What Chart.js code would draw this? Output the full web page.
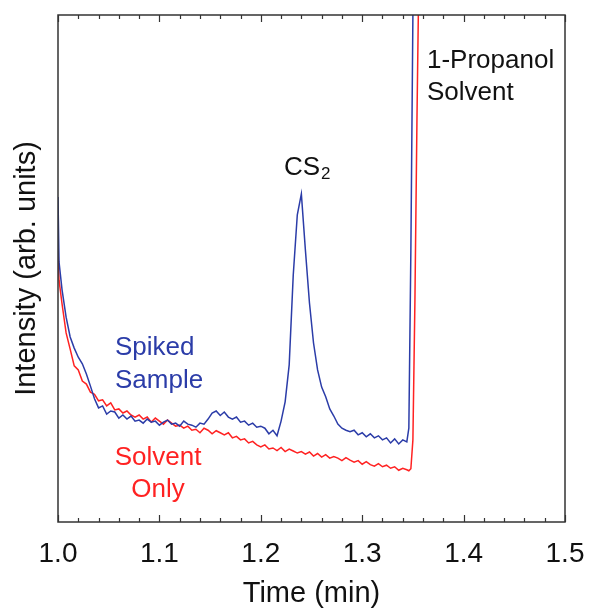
<!DOCTYPE html>
<html>
<head>
<meta charset="utf-8">
<script src="https://cdn.jsdelivr.net/npm/chart.js@4"></script>
<style>
  html, body { margin: 0; padding: 0; background: #fff; }
  #wrap { width: 589px; height: 611px; }
</style>
</head>
<body>
<div id="wrap"><canvas id="chart"></canvas></div>
<script>
// time axis (min)
const times = [
  1.000, 1.001,
  1.004, 1.008, 1.012, 1.016, 1.020, 1.024, 1.028, 1.032, 1.036, 1.040,
  1.044, 1.048, 1.052, 1.056, 1.060, 1.064, 1.068, 1.072, 1.076, 1.080,
  1.084, 1.088, 1.092, 1.096, 1.100, 1.104, 1.108, 1.112, 1.116, 1.120,
  1.124, 1.128, 1.132, 1.136, 1.140, 1.144, 1.148, 1.152, 1.156, 1.160,
  1.164, 1.168, 1.172, 1.176, 1.180, 1.184, 1.188, 1.192, 1.196, 1.200,
  1.204, 1.208, 1.212, 1.216, 1.220, 1.224, 1.228, 1.232, 1.236, 1.240,
  1.244, 1.248, 1.252, 1.256, 1.260, 1.264, 1.268, 1.272, 1.276, 1.280,
  1.284, 1.288, 1.292, 1.296, 1.300, 1.304, 1.308, 1.312, 1.316, 1.320,
  1.324, 1.328, 1.332, 1.336, 1.340, 1.344,
  1.346, 1.348, 1.350, 1.352, 1.354, 1.356
];

// intensity, arbitrary units (0 = bottom of frame, 100 = top)
const spiked = [
  64.1, 51.3,
  45.8, 40.4, 36.5, 34.3, 32.5, 31.2, 29.2, 26.8, 24.3, 22.5,
  22.9, 21.3, 21.9, 21.7, 20.5, 21.1, 20.3, 20.9, 19.9, 20.1,
  19.5, 20.3, 19.7, 19.9, 19.1, 19.7, 20.1, 19.3, 19.5, 18.9,
  19.9, 19.3, 19.1, 18.7, 19.5, 19.3, 20.3, 21.5, 21.9, 21.0,
  21.7, 20.7, 20.3, 20.7, 19.7, 19.9, 19.1, 19.5, 18.7, 18.9,
  18.5, 17.4, 18.1, 17.0, 19.9, 23.7, 31.0, 48.7, 60.6, 64.7,
  53.6, 43.2, 35.3, 30.0, 26.6, 24.7, 22.3, 20.9, 19.3, 18.5,
  18.1, 17.8, 18.1, 17.2, 17.6, 16.8, 17.4, 16.6, 17.0, 16.2,
  16.6, 15.6, 16.4, 15.4, 16.2, 15.8,
  18.5, 53.6, 100, 110, 110, 110
];

const solventOnly = [
  54.0, 47.7,
  43.0, 37.3, 34.1, 30.8, 30.0, 27.8, 27.2, 25.6, 25.2, 23.9,
  24.1, 22.9, 23.5, 22.1, 22.3, 21.5, 21.9, 21.1, 20.7, 21.1,
  20.3, 20.7, 19.7, 20.5, 19.9, 19.3, 20.1, 19.5, 18.9, 19.1,
  18.5, 18.9, 18.1, 18.3, 17.6, 18.5, 18.1, 17.4, 18.0, 17.6,
  17.2, 17.6, 16.6, 16.9, 16.2, 16.4, 15.6, 15.9, 15.2, 14.8,
  15.2, 14.4, 14.6, 14.1, 14.7, 13.9, 14.4, 14.0, 13.6, 13.9,
  13.4, 13.8, 13.0, 13.5, 12.8, 13.3, 12.6, 12.9, 12.6, 12.1,
  12.7, 12.2, 11.8, 12.1, 11.4, 11.9, 11.3, 11.0, 11.5, 10.9,
  11.2, 10.6, 10.9, 10.2, 10.6, 10.3,
  10.1, 10.5, 16.2, 43.8, 79.3, 110
];

const xTicks = [1.0, 1.1, 1.2, 1.3, 1.4, 1.5];

const BLUE = "#2b3ca8";
const RED = "#ff2222";
const FONT = "'Liberation Sans', Arial, sans-serif";

function toPoints(ys) {
  return times.map((t, i) => ({ x: t, y: ys[i] }));
}

// frame + inward ticks on top and bottom edges
const framePlugin = {
  id: "frame",
  afterDatasetsDraw(chart) {
    let ctx = chart.ctx;
    let a = chart.chartArea;
    let x = chart.scales.x;
    ctx.save();
    ctx.strokeStyle = "#333";
    ctx.lineWidth = 1.5;
    ctx.strokeRect(a.left, a.top, a.right - a.left, a.bottom - a.top);
    ctx.lineWidth = 1.2;
    for (let i = 0; i <= 25; i++) {
      let px = Math.round(x.getPixelForValue(1 + i * 0.02)) + 0.5;
      let len = i % 5 === 0 ? 7 : 4;
      ctx.beginPath();
      ctx.moveTo(px, a.bottom);
      ctx.lineTo(px, a.bottom - len);
      ctx.moveTo(px, a.top);
      ctx.lineTo(px, a.top + len);
      ctx.stroke();
    }
    ctx.restore();
  }
};

const labelPlugin = {
  id: "labels",
  afterDraw(chart) {
    let ctx = chart.ctx;
    ctx.save();
    ctx.textBaseline = "alphabetic";
    ctx.font = "26px " + FONT;

    ctx.fillStyle = "#111";
    ctx.textAlign = "left";
    ctx.fillText("CS", 284, 175);
    let w = ctx.measureText("CS").width;
    ctx.font = "17px " + FONT;
    ctx.fillText("2", 284 + w + 1, 179);

    ctx.font = "26px " + FONT;
    ctx.fillText("1-Propanol", 427, 68);
    ctx.fillText("Solvent", 427, 100);

    ctx.fillStyle = BLUE;
    ctx.fillText("Spiked", 115, 355);
    ctx.fillText("Sample", 115, 388);

    ctx.fillStyle = RED;
    ctx.textAlign = "center";
    ctx.fillText("Solvent", 158, 465);
    ctx.fillText("Only", 158, 497);
    ctx.restore();
  }
};

new Chart(document.getElementById("chart"), {
  type: "line",
  data: {
    datasets: [
      {
        label: "Spiked Sample",
        data: toPoints(spiked),
        borderColor: BLUE,
        borderWidth: 1.5,
        pointRadius: 0,
        tension: 0
      },
      {
        label: "Solvent Only",
        data: toPoints(solventOnly),
        borderColor: RED,
        borderWidth: 1.5,
        pointRadius: 0,
        tension: 0
      }
    ]
  },
  options: {
    responsive: true,
    maintainAspectRatio: false,
    animation: false,
    layout: { padding: { top: 15, right: 24, left: 0, bottom: 0 } },
    plugins: {
      legend: { display: false },
      tooltip: { enabled: false }
    },
    scales: {
      x: {
        type: "linear",
        min: 1.0,
        max: 1.5,
        afterBuildTicks: s => { s.ticks = xTicks.map(v => ({ value: v })); },
        afterFit: s => { s.height = 89; s.paddingLeft = 0; s.paddingRight = 0; },
        grid: { display: false, drawTicks: false },
        border: { display: false },
        ticks: {
          padding: 15,
          color: "#111",
          font: { family: FONT, size: 28 },
          callback: v => v.toFixed(1)
        },
        title: {
          display: true,
          text: "Time (min)",
          color: "#111",
          font: { family: FONT, size: 29 },
          padding: { top: 0, bottom: 0 }
        }
      },
      y: {
        min: 0,
        max: 100,
        afterFit: s => { s.width = 58; },
        grid: { display: false, drawTicks: false },
        border: { display: false },
        ticks: { display: false },
        title: {
          display: true,
          text: "Intensity (arb. units)",
          color: "#111",
          font: { family: FONT, size: 29 },
          padding: { top: 10, bottom: 0 }
        }
      }
    }
  },
  plugins: [framePlugin, labelPlugin]
});
</script>
</body>
</html>
